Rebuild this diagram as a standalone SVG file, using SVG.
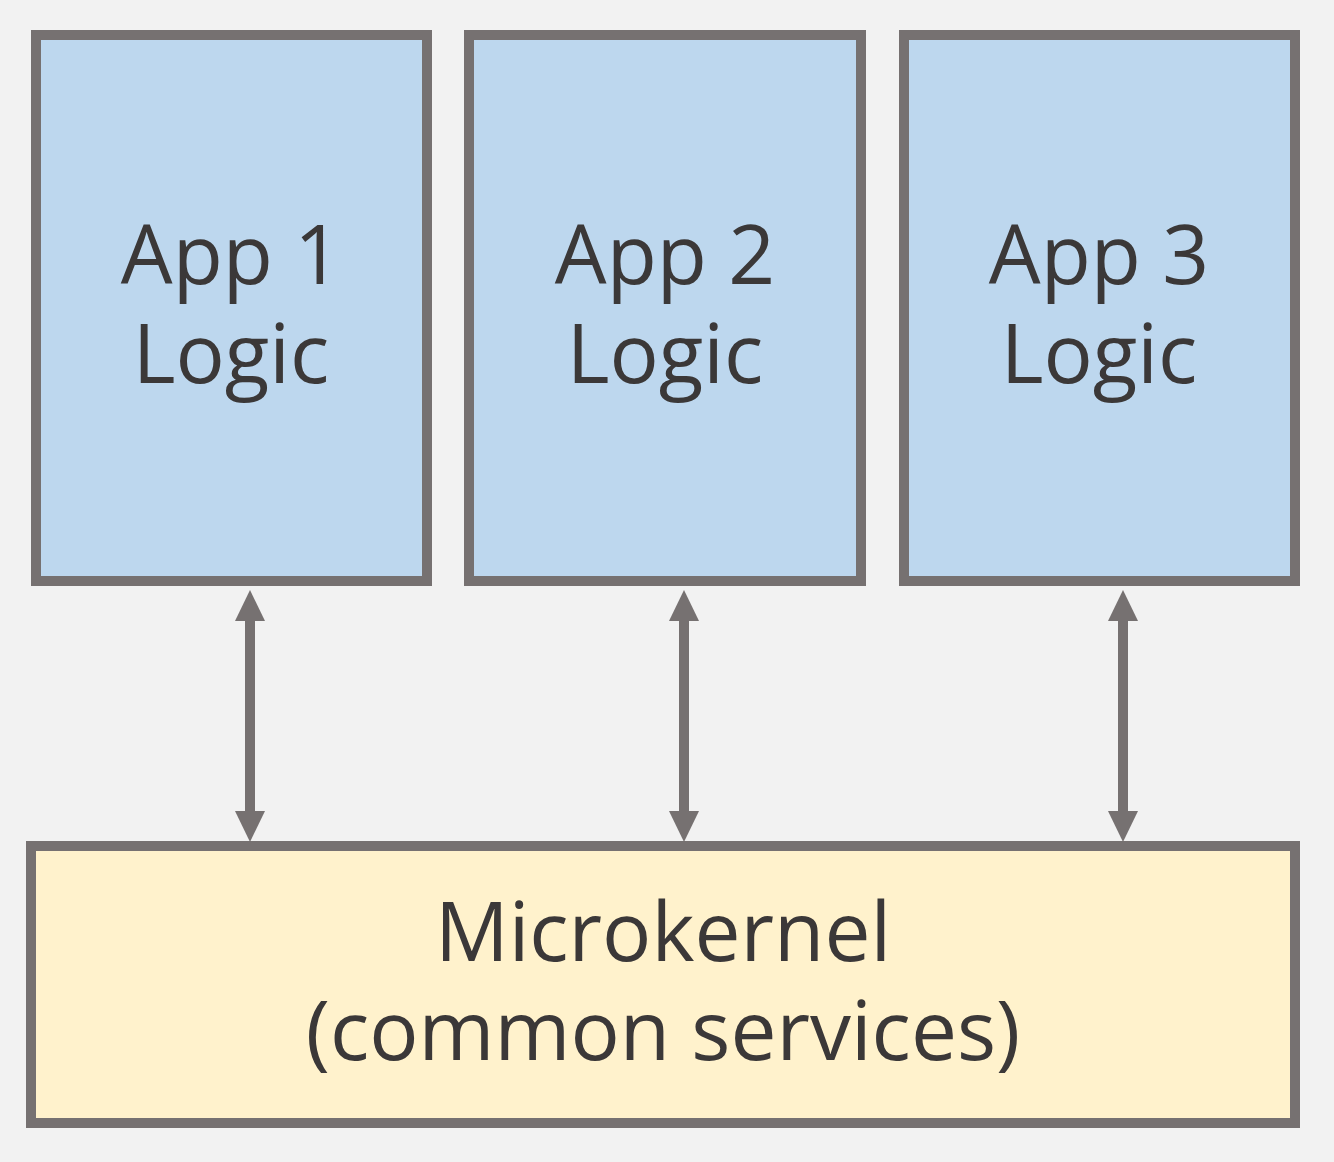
<svg xmlns="http://www.w3.org/2000/svg" width="1334" height="1162" viewBox="0 0 1334 1162">
  <style>
    .app { fill: #bdd7ee; stroke: #767171; stroke-width: 10; }
    .kernel { fill: #fff2cc; stroke: #767171; stroke-width: 10; }
    .lbl { font-family: "Open Sans", "Noto Sans", "Liberation Sans", sans-serif; font-size: 82px; fill: #3b3838; text-anchor: middle; }
    .conn { stroke: #767171; stroke-width: 10; fill: none; marker-start: url(#ah); marker-end: url(#ah); }
  </style>
  <defs>
    <marker id="ah" markerUnits="userSpaceOnUse" markerWidth="31" markerHeight="30" viewBox="0 0 31 30" refX="6" refY="15" orient="auto-start-reverse">
      <path d="M0,0 L31,15 L0,30 Z" fill="#767171"/>
    </marker>
  </defs>
  <rect width="1334" height="1162" fill="#f2f2f2"/>
  <g id="app1">
    <rect class="app" x="36" y="35" width="391" height="546"/>
    <text class="lbl"><tspan x="231" y="284">App 1</tspan><tspan x="231" y="383">Logic</tspan></text>
  </g>
  <g id="app2">
    <rect class="app" x="469" y="35" width="392" height="546"/>
    <text class="lbl"><tspan x="665" y="284">App 2</tspan><tspan x="665" y="383">Logic</tspan></text>
  </g>
  <g id="app3">
    <rect class="app" x="904" y="35" width="391" height="546"/>
    <text class="lbl"><tspan x="1099" y="284">App 3</tspan><tspan x="1099" y="383">Logic</tspan></text>
  </g>
  <g id="microkernel">
    <rect class="kernel" x="31" y="846" width="1264" height="277"/>
    <text class="lbl"><tspan x="663" y="961">Microkernel</tspan><tspan x="663" y="1060">(common services)</tspan></text>
  </g>
  <g id="connectors">
    <line class="conn" x1="250" y1="615" x2="250" y2="817"/>
    <line class="conn" x1="684" y1="615" x2="684" y2="817"/>
    <line class="conn" x1="1123" y1="615" x2="1123" y2="817"/>
  </g>
</svg>
